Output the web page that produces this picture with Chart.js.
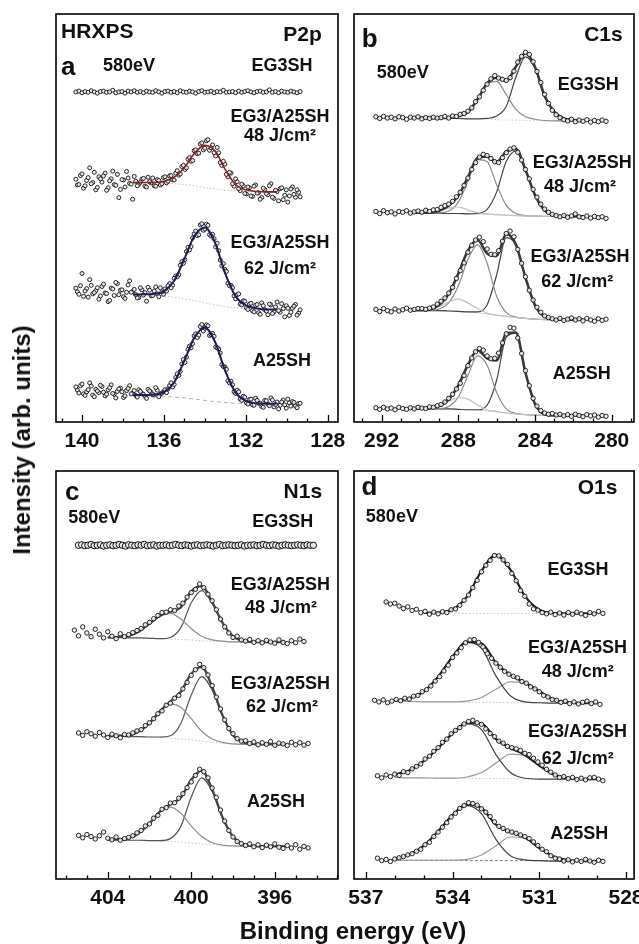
<!DOCTYPE html>
<html>
<head>
<meta charset="utf-8">
<script src="https://cdn.jsdelivr.net/npm/chart.js@4.4.1/dist/chart.umd.min.js"></script>
<style>
  html, body { margin: 0; padding: 0; background: #fff; }
  body { width: 639px; height: 944px; position: relative; overflow: hidden;
         font-family: "Liberation Sans", Arial, sans-serif; }
  canvas { position: absolute; }
  .title { position: absolute; font-weight: bold; font-size: 24px; color: #111; white-space: nowrap; }
  #ytitle { left: 22px; top: 440px; transform: translate(-50%, -50%) rotate(-90deg); }
  #xtitle { left: 353px; top: 931px; transform: translate(-50%, -50%); }
</style>
</head>
<body>
<canvas id="pa" width="346" height="462" style="left:0;top:0"></canvas>
<canvas id="pb" width="293" height="462" style="left:346px;top:0"></canvas>
<canvas id="pc" width="346" height="462" style="left:0;top:457px"></canvas>
<canvas id="pd" width="293" height="462" style="left:346px;top:457px"></canvas>
<div class="title" id="ytitle">Intensity (arb. units)</div>
<div class="title" id="xtitle">Binding energy (eV)</div>

<script>
// ---------- P2p (panel a) ----------
// two interleaved passes of readings per spectrum
const p2pStart = 140.3, p2pStartB = 140.225, p2pStep = 0.15;
const p2p_EG3SH = [80.9,81.1,80.7,81.0,80.8,81.2,80.9,80.6,81.0,81.1,80.8,80.9,81.3,80.7,80.9,81.0,80.6,81.1,80.9,81.2,80.8,81.0,80.7,81.1,80.9,80.8,81.2,80.9,80.6,81.0,81.1,80.8,81.0,80.7,81.2,80.9,80.8,81.1,80.9,80.6,81.0,81.2,80.8,80.9,81.1,80.7,81.0,80.9,81.3,80.8,80.9,81.0,80.7,81.1,80.8,81.0,81.2,80.9,80.7,81.0,81.1,80.8,80.9,81.4,80.8,81.0,80.7,81.1,80.9,80.8,81.1,80.9,80.7,81.0];
const p2p_48 = [59.5,58.2,60.8,57.9,59.9,58.4,61.2,57.5,59.6,60.3,56.8,59.1,61.5,58.0,55.0,59.4,57.6,59.8,58.3,60.2,57.9,58.8,59.7,57.6,58.9,59.8,57.8,59.2,58.4,60.1,59.0,60.4,59.3,61.6,60.8,62.9,62.3,64.8,64.1,66.7,65.9,68.4,67.1,69.2,67.2,66.0,67.3,63.6,63.9,60.7,61.2,58.4,59.6,57.2,58.3,56.0,57.6,55.4,57.8,56.1,54.6,57.3,56.0,57.9,55.1,56.8,54.2,57.4,55.6,53.9,57.1,55.8,56.9,55.2];
const p2p_48B = [58.1,60.4,57.3,59.2,62.3,58.7,56.9,60.1,58.8,61.0,57.4,59.6,58.2,60.7,57.0,59.3,61.4,58.5,54.6,59.0,58.3,59.5,57.8,60.0,58.6,57.9,59.4,58.1,59.9,58.6,60.3,59.4,61.0,60.5,62.6,61.9,64.4,63.9,66.5,65.8,68.1,66.7,68.9,66.6,67.9,65.2,66.0,62.9,63.2,60.1,61.0,57.8,58.9,56.7,57.9,55.9,57.4,55.3,58.1,56.2,55.0,57.0,55.7,58.4,54.8,56.5,57.2,54.5,56.9,55.4,57.6,55.1,56.3];
const p2p_62 = [32.8,31.3,36.4,32.1,30.6,33.5,31.7,32.9,30.9,33.8,31.5,29.8,32.6,34.2,31.2,32.4,30.3,33.6,31.8,32.5,30.4,32.9,31.1,29.6,32.3,31.0,33.1,30.7,31.9,32.6,33.4,32.9,35.2,35.6,38.4,38.9,41.8,42.2,45.1,46.8,45.9,48.6,47.3,48.2,45.6,44.9,43.8,39.7,38.8,36.9,33.4,32.9,30.2,31.4,28.7,29.6,27.6,29.1,27.0,28.8,26.4,28.5,27.2,28.9,26.6,28.2,27.3,29.0,25.8,27.9,26.9,28.4,26.2,27.5];
const p2p_62B = [31.9,33.4,30.8,32.7,34.9,31.4,32.2,30.1,33.2,31.6,29.5,32.8,31.0,33.9,32.3,30.7,31.8,34.6,32.0,31.2,30.5,32.4,31.7,33.0,30.9,32.1,31.4,32.9,31.3,32.1,33.9,33.5,35.8,36.1,39.3,39.8,42.8,43.0,46.1,45.7,48.3,47.0,48.5,45.9,46.0,42.9,42.0,38.3,37.4,34.0,33.5,30.9,31.2,28.9,29.7,28.0,28.9,27.3,28.6,26.8,29.2,27.5,26.3,28.7,27.0,29.4,26.9,27.8,28.5,26.1,27.9,28.8,26.7];
const p2p_A25SH = [8.6,7.1,9.3,6.5,7.9,8.8,6.2,7.6,9.0,7.3,6.8,8.4,7.0,5.9,8.1,7.4,6.4,8.2,6.9,7.7,6.1,7.5,6.8,5.8,7.6,6.7,8.4,6.2,7.1,7.9,8.1,9.6,9.2,11.8,12.4,15.3,15.9,18.6,19.2,21.6,21.3,23.9,23.0,23.6,21.4,21.0,18.2,16.9,13.6,12.9,9.6,9.1,7.0,7.4,5.3,6.1,4.4,5.6,4.1,5.3,4.6,3.6,5.2,4.0,5.4,4.3,3.2,4.9,4.2,5.6,3.9,4.8,3.5,4.6];
const p2p_A25SHB = [7.8,8.9,6.9,7.4,9.6,6.6,8.0,7.2,8.7,6.4,7.9,9.1,6.8,7.5,8.3,6.0,7.7,8.9,7.1,6.5,7.9,7.0,6.3,8.0,7.3,6.6,7.8,6.9,7.4,7.2,8.9,8.6,10.9,11.4,14.2,14.6,17.8,18.2,21.1,20.7,23.4,22.3,23.8,21.2,21.7,18.4,17.9,14.1,13.5,10.1,10.0,7.4,7.8,5.6,6.3,4.7,5.5,4.2,5.8,4.6,3.8,5.3,4.4,5.9,3.7,4.9,4.1,5.4,3.4,4.7,5.0,3.9,4.5];
const p2pFitE = [137.5,137,136.5,136,135.5,135,134.5,134,133.5,133,132.5,132,131.5,131,130.5];
const p2pBg_48 = [58.7,58.7,58.6,58.5,58.4,58.2,57.9,57.5,57.1,56.8,56.6,56.5,56.4,56.4,56.4];
const p2pPeak_48 = [0,0,0.1,0.5,1.6,4.2,8.0,10.3,9.3,5.0,1.6,0.4,0.1,0,0];
const p2pBg_62 = [31.2,31.2,31.1,30.9,30.6,30.2,29.7,29.2,28.7,28.3,28.0,27.8,27.7,27.6,27.6];
const p2pPeak_62 = [0,0.1,0.3,1.2,4.0,9.8,16.0,18.5,15.2,8.0,2.8,0.8,0.2,0,0];
const p2pBg_A25SH = [6.6,6.5,6.4,6.3,6.1,5.9,5.6,5.3,5.0,4.8,4.6,4.5,4.5,4.5,4.5];
const p2pPeak_A25SH = [0,0.1,0.3,1.0,3.6,9.2,15.2,17.8,14.6,7.6,2.6,0.7,0.1,0,0];

// ---------- C1s (panel b) ----------
const c1sStart = 292.3, c1sStep = 0.2;
const c1s_EG3SH = [74.8,74.4,74.9,74.5,74.7,74.3,74.8,74.6,74.2,74.7,74.5,74.8,74.3,74.6,74.4,74.7,74.5,74.6,74.9,74.5,75.0,74.9,75.4,75.6,76.2,77.0,78.5,79.7,81.3,82.8,84.1,84.9,84.3,84.0,83.7,84.4,86.0,88.2,89.6,90.6,90.1,88.3,85.9,83.2,80.3,78.1,76.4,75.3,74.6,74.1,73.8,74.2,73.6,74.0,73.7,74.1,73.5,73.9,73.6,74.0,73.7];
const c1s_48 = [51.6,51.1,51.8,51.3,51.5,51.0,51.6,51.4,51.8,51.2,51.5,51.7,51.4,51.9,51.6,52.0,52.1,52.6,53.0,53.4,54.1,55.2,56.3,58.0,59.8,61.9,63.6,64.9,65.6,65.3,64.6,63.8,63.6,64.8,66.0,66.9,67.2,66.1,64.2,61.9,59.6,57.0,55.1,53.4,52.2,51.4,50.9,50.6,50.3,50.6,50.2,50.5,51.0,50.3,50.1,50.5,50.0,50.4,50.1,50.3,49.9];
const c1s_62 = [27.6,27.1,27.8,27.3,27.0,27.7,27.2,27.5,27.9,27.4,27.6,27.8,27.8,27.6,27.9,28.2,28.9,29.6,30.4,31.6,33.0,35.2,37.1,39.0,41.6,43.3,44.6,45.3,44.2,42.4,41.1,41.0,42.0,44.3,46.2,46.8,45.4,42.3,38.9,35.6,32.3,29.9,28.1,26.9,26.0,25.6,25.3,25.0,25.4,24.9,25.2,25.5,25.0,25.3,24.8,25.4,25.0,24.7,25.3,24.9,25.2];
const c1s_A25SH = [3.5,3.1,3.6,3.2,3.4,3.0,3.6,3.3,3.1,3.5,3.2,3.6,3.4,3.3,3.7,3.6,4.0,4.3,4.9,5.8,6.8,8.1,9.5,11.4,13.8,15.7,17.2,18.0,17.6,16.2,15.5,15.6,16.9,19.4,21.6,23.2,23.0,20.6,16.8,12.6,8.9,5.8,3.9,2.8,2.2,1.9,2.1,1.7,1.9,1.5,1.8,1.4,1.9,1.6,1.3,1.8,1.5,1.7,1.2,1.6,1.4];
const c1sFitE = [290.5,290,289.5,289,288.5,288,287.5,287,286.5,286,285.5,285,284.5,284,283.5,283,282.5,282,281.5];
const c1sBg_EG3SH = [74.6,74.6,74.5,74.5,74.4,74.4,74.3,74.3,74.2,74.1,74.0,74.0,73.9,73.9,73.8,73.8,73.8,73.8,73.8];
const c1sCO_EG3SH = [0,0,0,0,0.2,0.6,1.6,4.8,8.6,9.4,6.2,2.6,0.9,0.3,0.1,0,0,0,0];
const c1sCC_EG3SH = [0,0,0,0,0,0,0,0,0.2,0.9,3.4,10.5,15.6,12.8,6.0,2.2,0.6,0.2,0];
const c1sBg_48 = [51.3,51.3,51.2,51.2,51.1,51.1,51.0,51.0,50.9,50.8,50.7,50.6,50.5,50.5,50.4,50.4,50.4,50.4,50.4];
const c1sCOO_48 = [0,0,0.1,0.5,1.3,1.6,1.0,0.3,0.1,0,0,0,0,0,0,0,0,0,0];
const c1sCO_48 = [0,0,0,0.1,0.6,2.8,8.0,13.3,12.9,7.3,2.4,0.5,0.1,0,0,0,0,0,0];
const c1sCC_48 = [0,0,0,0,0,0,0,0.1,1.2,5.6,13.2,15.8,11.2,5.1,1.5,0.3,0,0,0];
const c1sBg_62 = [27.4,27.4,27.3,27.3,27.2,27.1,27.0,26.8,26.5,26.2,25.9,25.6,25.4,25.2,25.1,25.1,25.1,25.1,25.1];
const c1sCOO_62 = [0,0,0.2,1.0,2.2,3.0,2.2,1.0,0.2,0,0,0,0,0,0,0,0,0,0];
const c1sCO_62 = [0,0,0.1,0.4,2.0,6.3,12.8,16.6,12.4,4.6,0.9,0.1,0,0,0,0,0,0,0];
const c1sCC_62 = [0,0,0,0,0,0,0,0.2,2.2,9.9,19.3,17.8,10.0,3.4,0.7,0.1,0,0,0];
const c1sBg_A25SH = [3.3,3.3,3.3,3.2,3.2,3.1,3.0,2.9,2.7,2.5,2.2,2.0,1.8,1.7,1.6,1.6,1.6,1.6,1.6];
const c1sCOO_A25SH = [0,0,0.1,0.6,1.8,2.9,2.6,1.3,0.3,0.1,0,0,0,0,0,0,0,0,0];
const c1sCO_A25SH = [0,0,0,0.1,0.6,3.0,8.4,13.3,11.2,4.7,1.0,0.1,0,0,0,0,0,0,0];
const c1sCC_A25SH = [0,0,0,0,0,0,0,0.1,1.4,7.8,18.6,19.8,10.3,2.7,0.3,0,0,0,0];

// ---------- N1s (panel c) ----------
const n1sStart_EG3SH = 405.4, n1sStep_EG3SH = 0.15;
const n1s_EG3SH = [81.8,81.9,81.7,81.8,82.0,81.7,81.8,81.9,81.6,81.8,81.9,81.7,81.8,82.0,81.8,81.6,81.9,81.8,81.7,81.9,81.8,82.0,81.7,81.8,81.9,81.6,81.8,81.8,81.9,81.7,81.8,82.0,81.8,81.7,81.9,81.8,81.6,81.8,81.9,81.7,81.8,81.9,81.8,81.6,81.8,82.0,81.7,81.8,81.9,81.8,81.7,81.8,81.9,81.6,81.8,81.8,81.9,81.7,81.8,82.0,81.8,81.7,81.9,81.8,81.6,81.8,81.9,81.8,81.7,81.8,81.9,81.8,81.7,81.9,81.8,81.8];
const n1sStart_48 = 405.6, n1sStart = 405.4, n1sStep = 0.2;
const n1s_48 = [61.0,59.6,61.8,60.3,59.4,61.2,60.0,59.1,60.6,59.5,58.9,60.1,59.4,59.9,60.4,60.9,61.4,62.3,62.9,63.8,64.6,65.3,65.4,66.0,65.8,66.9,67.6,69.1,70.2,71.0,72.3,71.4,69.8,68.2,66.0,63.7,61.8,60.3,59.2,59.5,58.6,58.3,58.7,58.0,58.4,57.9,58.5,58.1,57.8,58.6,58.0,57.7,58.4,57.9,58.8,58.2];
const n1s_62 = [35.8,35.2,36.1,35.6,35.0,35.9,35.3,34.7,35.5,35.1,34.6,35.4,35.3,35.8,36.3,36.6,37.6,38.3,39.3,40.5,41.2,42.6,43.1,44.3,45.0,46.6,48.2,49.9,51.3,52.6,51.8,50.0,47.4,44.6,41.7,39.0,36.9,35.6,34.4,33.8,33.9,33.2,33.6,32.9,33.4,33.0,33.7,32.8,33.3,33.1,32.7,33.5,32.9,33.4,32.8,33.2];
const n1s_A25SH = [10.7,10.1,10.9,10.4,9.8,10.6,11.5,10.0,9.6,10.3,9.5,9.9,10.2,10.6,11.3,11.9,13.0,13.5,14.9,15.6,17.1,17.5,18.6,18.7,19.8,20.9,22.4,23.8,25.4,26.9,26.3,24.8,22.3,20.0,16.9,14.2,11.9,10.3,9.2,8.7,8.2,8.6,7.9,8.4,7.7,8.3,7.9,8.6,7.8,7.5,8.2,7.6,8.4,7.3,8.0,7.6];
const n1sFitE = [404,403.5,403,402.5,402,401.5,401,400.5,400,399.5,399,398.5,398,397.5,397,396.5,396,395.5];
const n1sBg_48 = [59.2,59.2,59.1,59.1,59.0,58.9,58.8,58.7,58.6,58.4,58.3,58.2,58.1,58.1,58.1,58.1,58.1,58.1];
const n1sHi_48 = [0,0.1,0.5,1.6,3.6,5.6,6.3,5.0,2.8,1.1,0.3,0.1,0,0,0,0,0,0];
const n1sLo_48 = [0,0,0,0,0,0,0.4,2.9,9.1,12.3,9.3,4.5,1.4,0.3,0,0,0,0];
const n1sBg_62 = [35.0,35.0,34.9,34.9,34.8,34.7,34.5,34.3,34.1,33.8,33.5,33.3,33.1,33.0,33.0,33.0,33.0,33.0];
const n1sHi_62 = [0,0.1,0.3,1.3,3.4,6.3,8.4,7.8,5.2,2.4,0.8,0.2,0,0,0,0,0,0];
const n1sLo_62 = [0,0,0,0,0,0.1,0.6,3.8,11.0,15.8,12.8,6.6,2.2,0.5,0.1,0,0,0];
const n1sBg_A25SH = [9.6,9.6,9.5,9.5,9.4,9.3,9.2,9.0,8.8,8.6,8.4,8.2,8.1,8.0,8.0,8.0,8.0,8.0];
const n1sHi_A25SH = [0,0.1,0.5,1.8,4.2,7.1,8.4,7.1,4.2,1.8,0.5,0.1,0,0,0,0,0,0];
const n1sLo_A25SH = [0,0,0,0,0,0.1,0.7,3.9,11.3,16.2,13.1,6.8,2.3,0.5,0.1,0,0,0];

// ---------- O1s (panel d) ----------
const o1sStep = 0.15;
const o1sStart_EG3SH = 536.3, o1sStart_48 = 536.7, o1sStart = 536.6;
const o1s_EG3SH = [67.9,67.4,67.6,66.9,66.3,66.7,65.8,66.1,65.3,65.6,64.9,65.4,65.0,65.5,65.3,66.0,66.2,67.1,68.3,69.6,71.4,73.2,75.3,76.9,78.1,79.3,79.2,78.2,77.1,74.9,73.1,70.7,69.3,67.4,66.2,65.9,65.3,65.0,65.4,64.8,65.2,64.7,65.3,64.9,65.4,65.0,64.6,65.3,65.0,65.6,65.1];
const o1s_48 = [43.8,43.4,43.9,43.2,43.6,44.0,43.7,44.3,44.1,44.8,45.0,45.9,46.4,47.3,48.5,49.6,51.0,52.4,54.3,55.4,56.7,57.9,58.6,58.7,58.0,56.9,55.2,54.1,52.9,51.9,50.9,50.2,49.7,49.3,48.4,48.0,47.1,46.6,45.9,45.0,44.6,44.0,43.8,43.3,43.6,43.0,43.4,42.9,43.3,43.6,43.0,43.4,42.8];
const o1s_62 = [25.3,24.8,25.5,25.1,25.7,25.4,26.3,26.1,27.0,27.6,28.2,29.4,30.1,31.3,32.2,33.5,34.3,35.6,36.4,37.1,38.0,38.6,38.9,38.3,37.9,36.8,35.7,34.9,33.8,33.3,32.5,32.2,31.9,31.5,30.8,30.5,29.6,28.7,27.9,26.9,26.2,25.5,24.9,25.1,24.6,24.9,24.4,24.7,24.3,24.8,24.9,24.5,24.1];
const o1s_A25SH = [5.1,4.5,4.8,4.3,4.9,5.2,5.5,5.9,6.2,6.8,7.3,8.4,9.0,10.4,11.5,12.7,13.8,15.2,16.1,17.3,18.0,18.7,18.5,18.1,17.2,16.4,15.3,14.0,12.9,12.4,11.8,11.5,11.2,10.8,10.4,9.9,9.1,8.2,7.3,6.7,5.7,5.1,4.9,4.4,4.7,4.2,4.6,4.3,4.8,4.4,4.1,4.6,4.3];
const o1sFitE = [536,535.5,535,534.5,534,533.5,533,532.5,532,531.5,531,530.5,530,529.5,529];
const o1sBg_EG3SH = [null,null,65.2,65.2,65.2,65.1,65.1,65.1,65.1,65.1,65.1,65.1,65.1,65.1,65.1];
const o1sPeak_EG3SH = [null,null,0,0.1,0.9,4.1,10.4,14.3,10.7,4.3,0.9,0.1,0,0,0];
const o1sBg_48 = [43.5,43.5,43.4,43.4,43.4,43.3,43.3,43.3,43.2,43.2,43.2,43.1,43.1,43.1,43.1];
const o1sHi_48 = [0.2,0.8,2.5,6.2,11.1,14.6,13.3,6.5,1.7,0.2,0,0,0,0,0];
const o1sLo_48 = [0,0,0,0,0,0.3,1.2,3.2,5.1,4.8,2.8,0.9,0.2,0,0];
const o1sBg_62 = [24.9,24.8,24.8,24.7,24.7,24.7,24.6,24.6,24.6,24.5,24.5,24.5,24.5,24.5,24.5];
const o1sHi_62 = [0.7,1.8,4.1,7.4,11.0,13.3,12.0,5.9,1.5,0.2,0,0,0,0,0];
const o1sLo_62 = [0,0,0,0,0,0.3,1.5,3.8,6.0,5.7,3.3,1.1,0.2,0,0];
const o1sBg_A25SH = [4.6,4.6,4.6,4.6,4.6,4.5,4.5,4.5,4.5,4.5,4.5,4.4,4.4,4.4,4.4];
const o1sHi_A25SH = [0.4,1.4,3.5,7.1,11.1,13.5,11.5,5.2,1.2,0.2,0,0,0,0,0];
const o1sLo_A25SH = [0,0,0,0,0,0.3,1.4,3.6,5.8,5.5,3.1,1.1,0.2,0,0];

// ---------- axis ticks ----------
const p2pMajor = [140,136,132,128], p2pMinor = [141,140,139,138,137,136,135,134,133,132,131,130,129,128];
const c1sMajor = [292,288,284,280], c1sMinor = [293,292,291,290,289,288,287,286,285,284,283,282,281,280,279];
const n1sMajor = [404,400,396], n1sMinor = [406,405,404,403,402,401,400,399,398,397,396,395,394,393];
const o1sMajor = [537,534,531,528], o1sMinor = [537,536,535,534,533,532,531,530,529,528];

// ---------- helpers ----------
const sum = (bg, ...parts) => bg.map((b, i) => b == null ? null : parts.reduce((s, p) => s + p[i], b));

function dots(start, step, vals, r, bw) {
  return {
    data: vals.map((v, i) => ({ x: +(start - i * step).toFixed(3), y: v })),
    showLine: false, pointRadius: r, pointBorderWidth: bw || 0.9,
    pointBorderColor: '#111', pointBackgroundColor: 'rgba(236,236,236,0.9)', order: 2
  };
}
function curve(E, vals, color, width, dash, order) {
  return {
    data: E.map((e, i) => ({ x: e, y: vals[i] })),
    borderColor: color, borderWidth: width, borderDash: dash || [],
    pointRadius: 0, cubicInterpolationMode: 'monotone', spanGaps: false,
    fill: false, order: order
  };
}

const framePlugin = {
  id: 'frame',
  afterDraw(chart, args, o) {
    const { ctx, chartArea: a, scales: { x, y } } = chart;
    ctx.save();
    ctx.strokeStyle = '#000';
    ctx.lineWidth = 1.3;
    o.minor.forEach(v => {
      const px = Math.round(x.getPixelForValue(v)) + 0.5;
      const len = o.major.includes(v) ? 7 : 3.5;
      ctx.beginPath(); ctx.moveTo(px, a.bottom); ctx.lineTo(px, a.bottom - len); ctx.stroke();
    });
    ctx.lineWidth = 1.6;
    ctx.strokeRect(a.left, a.top, a.right - a.left, a.bottom - a.top);
    ctx.fillStyle = '#111';
    ctx.textBaseline = 'middle';
    ctx.textAlign = 'center';
    ctx.font = 'bold 21px "Liberation Sans", Arial, sans-serif';
    o.major.forEach(v => ctx.fillText(String(v), x.getPixelForValue(v), a.bottom + 19));
    o.notes.forEach(n => {
      ctx.font = 'bold ' + n.size + 'px "Liberation Sans", Arial, sans-serif';
      ctx.textAlign = n.align;
      ctx.fillText(n.text, x.getPixelForValue(n.e), y.getPixelForValue(n.v));
    });
    ctx.restore();
  }
};

function panel(id, min, max, pad, datasets, frame) {
  new Chart(document.getElementById(id), {
    type: 'line',
    data: { datasets },
    options: {
      responsive: false, animation: false, events: [],
      layout: { padding: pad },
      plugins: { legend: { display: false }, tooltip: { enabled: false }, frame },
      scales: {
        x: { type: 'linear', reverse: true, min, max, display: false },
        y: { type: 'linear', min: 0, max: 100, display: false }
      }
    },
    plugins: [framePlugin]
  });
}

const note = (text, e, v, align, size) => ({ text, e, v, align, size });
const bgDot = '#c4c4c4';

// ---------- panel a : P2p ----------
panel('pa', 127.5, 141.27, { left: 56, top: 14, right: 8, bottom: 40 }, [
  curve(p2pFitE, sum(p2pBg_48, p2pPeak_48), '#8a1f1f', 1.6, [], 0),
  curve(p2pFitE, sum(p2pBg_62, p2pPeak_62), '#1c1f5a', 2, [], 0),
  curve(p2pFitE, sum(p2pBg_A25SH, p2pPeak_A25SH), '#1c1f5a', 2, [], 0),
  curve(p2pFitE, p2pBg_48, bgDot, 1, [1.5, 2], 3),
  curve(p2pFitE, p2pBg_62, bgDot, 1, [1.5, 2], 3),
  curve(p2pFitE, p2pBg_A25SH, '#b0b0b0', 1, [4, 3], 3),
  dots(p2pStart, p2pStep, p2p_EG3SH, 2.0),
  dots(p2pStart, p2pStep, p2p_48, 2.0),
  dots(p2pStartB, p2pStep, p2p_48B, 2.0),
  dots(p2pStart, p2pStep, p2p_62, 2.0),
  dots(p2pStartB, p2pStep, p2p_62B, 2.0),
  dots(p2pStart, p2pStep, p2p_A25SH, 2.0),
  dots(p2pStartB, p2pStep, p2p_A25SHB, 2.0)
], {
  major: p2pMajor, minor: p2pMinor,
  notes: [
    note('HRXPS', 141.02, 95.6, 'left', 21),
    note('P2p', 128.29, 94.8, 'right', 21),
    note('a', 141.02, 86.9, 'left', 26),
    note('580eV', 138.98, 87.3, 'left', 18),
    note('EG3SH', 130.23, 87.3, 'center', 18),
    note('EG3/A25SH', 130.33, 74.7, 'center', 18),
    note('48 J/cm²', 130.33, 70.1, 'center', 18),
    note('EG3/A25SH', 130.33, 43.8, 'center', 18),
    note('62 J/cm²', 130.33, 37.4, 'center', 18),
    note('A25SH', 130.23, 15.0, 'center', 18)
  ]
});

// ---------- panel b : C1s ----------
const envB = '#3a3a3a', ccCol = '#454545', coCol = '#8a8a8a', cooCol = '#c2c2c2', bgB = '#cfcfcf';
panel('pb', 278.84, 293.44, { left: 8, top: 14, right: 5, bottom: 40 }, [
  curve(c1sFitE, sum(c1sBg_EG3SH, c1sCO_EG3SH, c1sCC_EG3SH), envB, 2.6, [], 3),
  curve(c1sFitE, sum(c1sBg_EG3SH, c1sCO_EG3SH), coCol, 1.2, [], 4),
  curve(c1sFitE, sum(c1sBg_EG3SH, c1sCC_EG3SH), ccCol, 1.2, [], 4),
  curve(c1sFitE, c1sBg_EG3SH, bgB, 1, [1.5, 2], 5),

  curve(c1sFitE, sum(c1sBg_48, c1sCOO_48, c1sCO_48, c1sCC_48), envB, 2.6, [], 3),
  curve(c1sFitE, sum(c1sBg_48, c1sCOO_48), cooCol, 1.2, [], 4),
  curve(c1sFitE, sum(c1sBg_48, c1sCO_48), coCol, 1.2, [], 4),
  curve(c1sFitE, sum(c1sBg_48, c1sCC_48), ccCol, 1.2, [], 4),
  curve(c1sFitE, c1sBg_48, bgB, 1, [], 5),

  curve(c1sFitE, sum(c1sBg_62, c1sCOO_62, c1sCO_62, c1sCC_62), envB, 2.6, [], 3),
  curve(c1sFitE, sum(c1sBg_62, c1sCOO_62), cooCol, 1.2, [], 4),
  curve(c1sFitE, sum(c1sBg_62, c1sCO_62), coCol, 1.2, [], 4),
  curve(c1sFitE, sum(c1sBg_62, c1sCC_62), ccCol, 1.2, [], 4),
  curve(c1sFitE, c1sBg_62, bgB, 1, [], 5),

  curve(c1sFitE, sum(c1sBg_A25SH, c1sCOO_A25SH, c1sCO_A25SH, c1sCC_A25SH), envB, 2.6, [], 3),
  curve(c1sFitE, sum(c1sBg_A25SH, c1sCOO_A25SH), cooCol, 1.2, [], 4),
  curve(c1sFitE, sum(c1sBg_A25SH, c1sCO_A25SH), coCol, 1.2, [], 4),
  curve(c1sFitE, sum(c1sBg_A25SH, c1sCC_A25SH), ccCol, 1.2, [], 4),
  curve(c1sFitE, c1sBg_A25SH, bgB, 1, [], 5),

  dots(c1sStart, c1sStep, c1s_EG3SH, 2.2),
  dots(c1sStart, c1sStep, c1s_48, 2.2),
  dots(c1sStart, c1sStep, c1s_62, 2.2),
  dots(c1sStart, c1sStep, c1s_A25SH, 2.2)
], {
  major: c1sMajor, minor: c1sMinor,
  notes: [
    note('b', 293.04, 93.6, 'left', 26),
    note('C1s', 279.43, 94.8, 'right', 21),
    note('580eV', 292.26, 85.5, 'left', 18),
    note('EG3SH', 281.22, 82.6, 'center', 18),
    note('EG3/A25SH', 281.54, 63.5, 'center', 18),
    note('48 J/cm²', 281.66, 57.6, 'center', 18),
    note('EG3/A25SH', 281.66, 40.5, 'center', 18),
    note('62 J/cm²', 281.8, 34.3, 'center', 18),
    note('A25SH', 281.57, 11.7, 'center', 18)
  ]
});

// ---------- panel c : N1s ----------
const envC = '#4a4a4a', loCol = '#555555', hiCol = '#8e8e8e';
panel('pc', 392.97, 406.48, { left: 56, top: 14, right: 8, bottom: 40 }, [
  curve(n1sFitE, sum(n1sBg_48, n1sHi_48, n1sLo_48), envC, 2.4, [], 3),
  curve(n1sFitE, sum(n1sBg_48, n1sHi_48), hiCol, 1.2, [], 4),
  curve(n1sFitE, sum(n1sBg_48, n1sLo_48), loCol, 1.2, [], 4),
  curve(n1sFitE, n1sBg_48, bgDot, 1, [1.5, 2], 5),

  curve(n1sFitE, sum(n1sBg_62, n1sHi_62, n1sLo_62), envC, 2.4, [], 3),
  curve(n1sFitE, sum(n1sBg_62, n1sHi_62), hiCol, 1.2, [], 4),
  curve(n1sFitE, sum(n1sBg_62, n1sLo_62), loCol, 1.2, [], 4),
  curve(n1sFitE, n1sBg_62, bgDot, 1, [1.5, 2], 5),

  curve(n1sFitE, sum(n1sBg_A25SH, n1sHi_A25SH, n1sLo_A25SH), envC, 2.4, [], 3),
  curve(n1sFitE, sum(n1sBg_A25SH, n1sHi_A25SH), hiCol, 1.2, [], 4),
  curve(n1sFitE, sum(n1sBg_A25SH, n1sLo_A25SH), loCol, 1.2, [], 4),
  curve(n1sFitE, n1sBg_A25SH, bgDot, 1, [1.5, 2], 5),

  dots(n1sStart_EG3SH, n1sStep_EG3SH, n1s_EG3SH, 3.2, 1.0),
  dots(n1sStart_48, n1sStep, n1s_48, 2.2),
  dots(n1sStart, n1sStep, n1s_62, 2.2),
  dots(n1sStart, n1sStep, n1s_A25SH, 2.2)
], {
  major: n1sMajor, minor: n1sMinor,
  notes: [
    note('c', 406.05, 94.7, 'left', 26),
    note('N1s', 393.73, 94.9, 'right', 21),
    note('580eV', 405.89, 88.4, 'left', 18),
    note('EG3SH', 395.62, 87.6, 'center', 18),
    note('EG3/A25SH', 395.73, 72.0, 'center', 18),
    note('48 J/cm²', 395.7, 66.3, 'center', 18),
    note('EG3/A25SH', 395.73, 47.9, 'center', 18),
    note('62 J/cm²', 395.65, 42.2, 'center', 18),
    note('A25SH', 395.94, 18.8, 'center', 18)
  ]
});

// ---------- panel d : O1s ----------
const envD = '#222222', oHiCol = '#444444', oLoCol = '#9a9a9a';
panel('pd', 527.72, 537.41, { left: 8, top: 14, right: 4, bottom: 40 }, [
  curve(o1sFitE, sum(o1sBg_EG3SH, o1sPeak_EG3SH), envD, 2.2, [], 3),
  curve(o1sFitE, o1sBg_EG3SH, bgDot, 1, [1.5, 2], 5),

  curve(o1sFitE, sum(o1sBg_48, o1sHi_48, o1sLo_48), envD, 2.2, [], 3),
  curve(o1sFitE, sum(o1sBg_48, o1sHi_48), oHiCol, 1.2, [], 4),
  curve(o1sFitE, sum(o1sBg_48, o1sLo_48), oLoCol, 1.2, [], 4),
  curve(o1sFitE, o1sBg_48, bgDot, 1, [1.5, 2], 5),

  curve(o1sFitE, sum(o1sBg_62, o1sHi_62, o1sLo_62), envD, 2.2, [], 3),
  curve(o1sFitE, sum(o1sBg_62, o1sHi_62), oHiCol, 1.2, [], 4),
  curve(o1sFitE, sum(o1sBg_62, o1sLo_62), oLoCol, 1.2, [], 4),
  curve(o1sFitE, o1sBg_62, bgDot, 1, [1.5, 2], 5),

  curve(o1sFitE, sum(o1sBg_A25SH, o1sHi_A25SH, o1sLo_A25SH), envD, 2.2, [], 3),
  curve(o1sFitE, sum(o1sBg_A25SH, o1sHi_A25SH), oHiCol, 1.2, [], 4),
  curve(o1sFitE, sum(o1sBg_A25SH, o1sLo_A25SH), oLoCol, 1.2, [], 4),
  curve(o1sFitE, o1sBg_A25SH, '#777777', 1, [3, 2], 5),

  dots(o1sStart_EG3SH, o1sStep, o1s_EG3SH, 2.2),
  dots(o1sStart_48, o1sStep, o1s_48, 2.2),
  dots(o1sStart, o1sStep, o1s_62, 2.2),
  dots(o1sStart, o1sStep, o1s_A25SH, 2.2)
], {
  major: o1sMajor, minor: o1sMinor,
  notes: [
    note('d', 537.15, 95.8, 'left', 26),
    note('O1s', 528.3, 95.8, 'right', 21),
    note('580eV', 537.0, 88.8, 'left', 18),
    note('EG3SH', 529.66, 75.7, 'center', 18),
    note('EG3/A25SH', 529.68, 56.5, 'center', 18),
    note('48 J/cm²', 529.67, 50.7, 'center', 18),
    note('EG3/A25SH', 529.68, 36.0, 'center', 18),
    note('62 J/cm²', 529.67, 29.5, 'center', 18),
    note('A25SH', 529.62, 11.1, 'center', 18)
  ]
});
</script>
</body>
</html>
